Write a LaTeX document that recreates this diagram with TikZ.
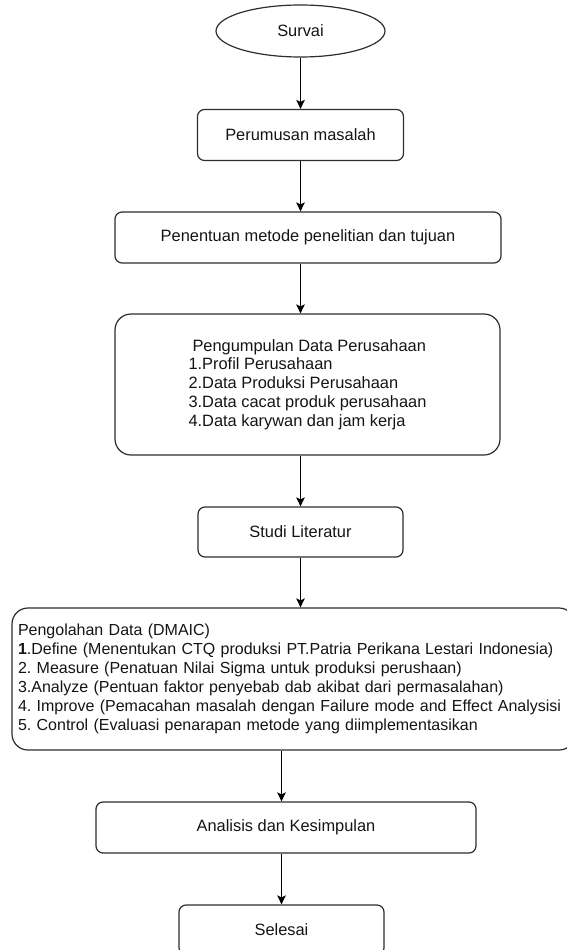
\documentclass[tikz,border=0pt]{standalone}
\usepackage{fontspec}
\setmainfont{Liberation Sans}
\frenchspacing
\usepackage{xcolor}
\definecolor{flowline}{RGB}{45,45,45}
\definecolor{flowtext}{RGB}{20,20,20}
\usetikzlibrary{arrows.meta, shapes.geometric}

\begin{document}
\begin{tikzpicture}[x=1pt, y=-1pt,
  every node/.style={font=\fontsize{16.4}{18.8}\selectfont, text=flowtext},
  startend/.style={draw=flowline, line width=1.2pt, ellipse, minimum width=169pt, minimum height=52pt, inner sep=0pt},
  procbox/.style={draw=flowline, line width=1.2pt, rounded corners=7pt, minimum height=51pt, inner sep=0pt},
  bigbox/.style={draw=flowline, line width=1.2pt, rounded corners=16pt, minimum height=141pt, align=left},
  flowarrow/.style={draw=black, line width=1.2pt, -{Stealth[length=9pt, width=8.5pt, inset=2pt]}}]

\useasboundingbox (0,0) rectangle (567,950);
\clip (0,0) rectangle (567,950);

% === Start ===
\node[startend] (survai) at (300.5,31) {Survai};

% === Preparation steps ===
\node[procbox, minimum width=206pt] (perumusan) at (300.5,135) {Perumusan masalah};
\node[procbox, minimum width=386pt] (penentuan) at (308,237.5) {Penentuan metode penelitian dan tujuan};

\node[bigbox, minimum width=385pt] (pengumpulan) at (307.5,384.5)
  {\hspace*{4pt}Pengumpulan Data Perusahaan\\
   1.Profil Perusahaan\\
   2.Data Produksi Perusahaan\\
   3.Data cacat produk perusahaan\\
   4.Data karywan dan jam kerja};

\node[procbox, minimum width=205pt, minimum height=50pt] (studi) at (300.5,532) {Studi Literatur};

% === DMAIC ===
\node[bigbox, font=\fontsize{16}{19}\selectfont, text width=551pt, inner xsep=6pt, minimum height=142pt] (dmaic) at (293.5,679)
  {\mbox{Pengolahan Data (DMAIC)}\\
   \mbox{\textbf{1}.Define (Menentukan CTQ produksi PT.Patria Perikana Lestari Indonesia)}\\
   \mbox{2. Measure (Penatuan Nilai Sigma untuk produksi perushaan)}\\
   \mbox{3.Analyze (Pentuan faktor penyebab dab akibat dari permasalahan)}\\
   \mbox{4. Improve (Pemacahan masalah dengan Failure mode and Effect Analysisi}\\
   \mbox{5. Control (Evaluasi penarapan metode yang diimplementasikan}};

% === End ===
\node[procbox, minimum width=380pt] (analisis) at (286,827.5) {Analisis dan Kesimpulan};
\node[procbox, minimum width=205pt, minimum height=50pt] (selesai) at (281.5,930) {Selesai};

% === Arrows ===
\draw[flowarrow] (survai.south) -- (perumusan.north);
\draw[flowarrow] (perumusan.south) -- (perumusan.south |- penentuan.north);
\draw[flowarrow] (penentuan.south -| perumusan) -- (pengumpulan.north -| perumusan);
\draw[flowarrow] (pengumpulan.south -| studi) -- (studi.north);
\draw[flowarrow] (studi.south) -- (studi.south |- dmaic.north);
\draw[flowarrow] (dmaic.south -| selesai) -- (analisis.north -| selesai);
\draw[flowarrow] (analisis.south -| selesai) -- (selesai.north);

\end{tikzpicture}
\end{document}
